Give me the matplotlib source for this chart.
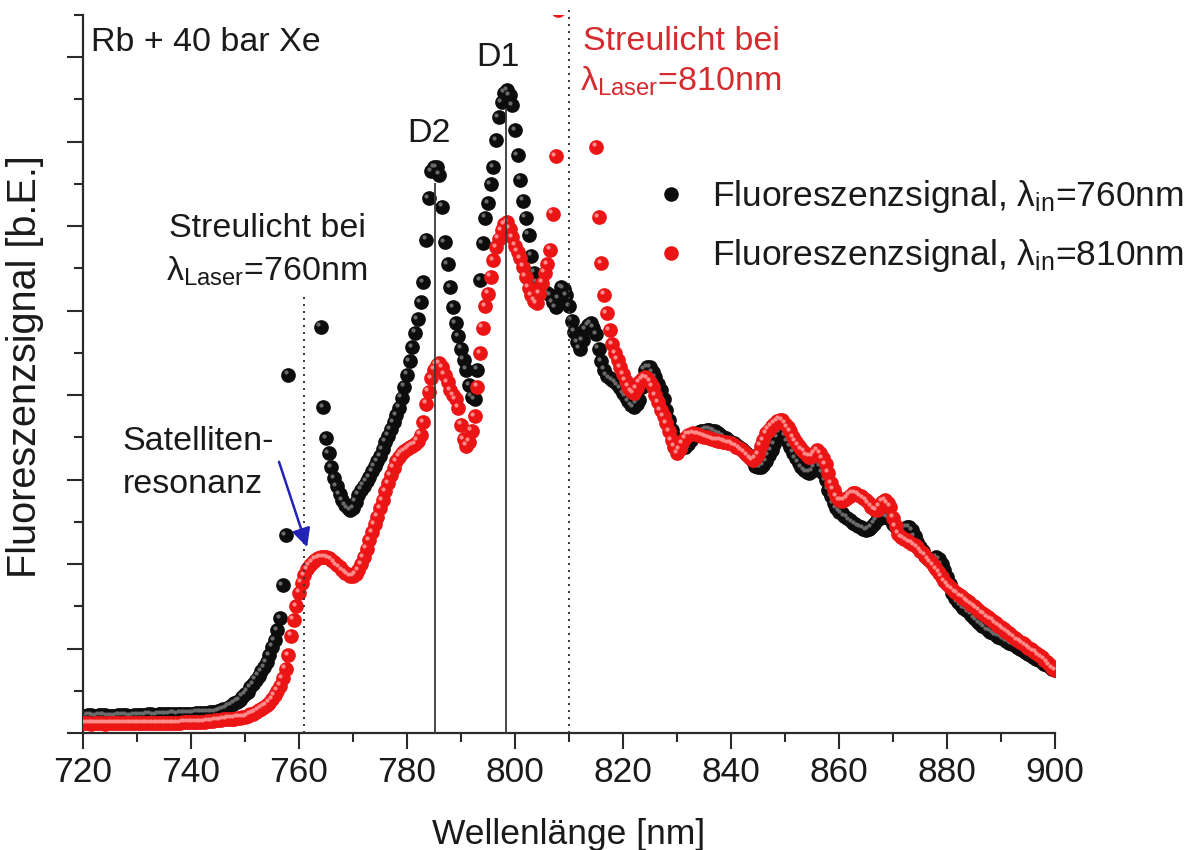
"""Fluoreszenzspektrum Rb + 40 bar Xe bei zwei Anregungswellenlaengen."""

import matplotlib

matplotlib.use("Agg")
import matplotlib.pyplot as plt
import matplotlib.transforms as mtransforms
from matplotlib.lines import Line2D
from matplotlib.ticker import MultipleLocator, NullFormatter
import numpy as np

plt.rcParams.update(
    {
        "font.family": ["Liberation Sans", "DejaVu Sans"],
        "mathtext.fontset": "custom",
        "mathtext.rm": "Liberation Sans",
        "mathtext.it": "Liberation Sans:italic",
        "mathtext.bf": "Liberation Sans:bold",
    }
)

# Messgitter: 720 ... 900 nm in 0.5-nm-Schritten
WL_START = 720.0
WL_STEP = 0.5

# Fluoreszenzsignal bei Anregung mit 760 nm (b.E.), Werte > 8.5 = Streulicht ausserhalb
SIGNAL_760 = [
    0.20, 0.20, 0.21, 0.21, 0.20, 0.20, 0.21, 0.21, 0.21, 0.20,
    0.20, 0.20, 0.20, 0.21, 0.21, 0.21, 0.21, 0.20, 0.20, 0.21,
    0.21, 0.21, 0.21, 0.21, 0.22, 0.22, 0.21, 0.21, 0.22, 0.22,
    0.22, 0.22, 0.22, 0.23, 0.23, 0.22, 0.23, 0.23, 0.23, 0.23,
    0.23, 0.23, 0.24, 0.24, 0.24, 0.24, 0.24, 0.25, 0.25, 0.25,
    0.26, 0.27, 0.28, 0.29, 0.31, 0.33, 0.35, 0.37, 0.39, 0.43,
    0.46, 0.49, 0.54, 0.58, 0.63, 0.68, 0.73, 0.78, 0.84, 0.92,
    1.02, 1.10, 1.22, 1.36, 1.75, 2.34, 4.24, 9.60, 12.5, 15.0,
    17.0, 17.0, 15.0, 13.0, 11.5, 10.5, 9.80, 9.00, 4.81, 3.86,
    3.49, 3.31, 3.15, 3.02, 2.92, 2.83, 2.76, 2.70, 2.66, 2.64,
    2.66, 2.74, 2.82, 2.88, 2.93, 2.98, 3.03, 3.10, 3.16, 3.22,
    3.28, 3.36, 3.45, 3.52, 3.60, 3.68, 3.76, 3.85, 3.97, 4.10,
    4.24, 4.40, 4.57, 4.74, 4.90, 5.10, 5.34, 5.84, 6.33, 6.65,
    6.70, 6.70, 6.61, 6.23, 5.81, 5.55, 5.28, 5.04, 4.85, 4.70,
    4.55, 4.42, 4.30, 4.12, 3.98, 3.95, 4.30, 5.36, 5.80, 6.10,
    6.27, 6.50, 6.70, 7.02, 7.29, 7.47, 7.58, 7.61, 7.55, 7.43,
    7.14, 6.84, 6.55, 6.30, 6.10, 5.90, 5.65, 5.45, 5.34, 5.28,
    5.25, 5.22, 5.21, 5.18, 5.10, 5.04, 5.15, 5.28, 5.26, 5.18,
    5.05, 4.88, 4.75, 4.63, 4.55, 4.65, 4.78, 4.83, 4.85, 4.80,
    4.72, 4.55, 4.40, 4.30, 4.23, 4.20, 4.18, 4.15, 4.12, 4.08,
    4.02, 3.98, 3.93, 3.88, 3.86, 3.90, 3.94, 4.10, 4.30, 4.33,
    4.33, 4.27, 4.21, 4.13, 4.06, 3.95, 3.82, 3.70, 3.59, 3.50,
    3.43, 3.40, 3.39, 3.39, 3.42, 3.47, 3.50, 3.53, 3.56, 3.57,
    3.58, 3.59, 3.59, 3.58, 3.57, 3.55, 3.53, 3.51, 3.49, 3.47,
    3.45, 3.43, 3.41, 3.39, 3.36, 3.33, 3.30, 3.27, 3.22, 3.16,
    3.15, 3.15, 3.17, 3.22, 3.29, 3.35, 3.42, 3.50, 3.56, 3.59,
    3.52, 3.45, 3.39, 3.32, 3.25, 3.20, 3.15, 3.11, 3.09, 3.08,
    3.10, 3.14, 3.19, 3.16, 3.08, 2.99, 2.88, 2.80, 2.72, 2.66,
    2.62, 2.60, 2.57, 2.55, 2.52, 2.49, 2.47, 2.45, 2.44, 2.42,
    2.40, 2.41, 2.44, 2.48, 2.52, 2.55, 2.56, 2.56, 2.55, 2.53,
    2.48, 2.44, 2.40, 2.40, 2.42, 2.44, 2.44, 2.40, 2.33, 2.26,
    2.20, 2.15, 2.10, 2.06, 2.05, 2.06, 2.08, 2.06, 2.00, 1.93,
    1.85, 1.76, 1.66, 1.60, 1.55, 1.51, 1.48, 1.46, 1.43, 1.40,
    1.36, 1.33, 1.30, 1.27, 1.25, 1.22, 1.20, 1.18, 1.16, 1.14,
    1.13, 1.11, 1.09, 1.07, 1.05, 1.04, 1.02, 1.00, 0.98, 0.96,
    0.94, 0.92, 0.90, 0.88, 0.86, 0.84, 0.82, 0.80, 0.78, 0.76,
    0.74,
]

# Fluoreszenzsignal bei Anregung mit 810 nm (b.E.)
SIGNAL_810 = [
    0.12, 0.12, 0.12, 0.11, 0.12, 0.12, 0.12, 0.12, 0.11, 0.12,
    0.12, 0.12, 0.12, 0.12, 0.12, 0.12, 0.12, 0.12, 0.12, 0.12,
    0.12, 0.12, 0.12, 0.12, 0.12, 0.12, 0.12, 0.12, 0.12, 0.12,
    0.12, 0.12, 0.12, 0.12, 0.12, 0.12, 0.12, 0.13, 0.13, 0.13,
    0.13, 0.13, 0.13, 0.13, 0.13, 0.13, 0.14, 0.14, 0.14, 0.15,
    0.15, 0.15, 0.16, 0.16, 0.17, 0.17, 0.17, 0.18, 0.18, 0.19,
    0.19, 0.20, 0.22, 0.23, 0.25, 0.27, 0.29, 0.31, 0.33, 0.36,
    0.40, 0.45, 0.50, 0.56, 0.65, 0.76, 0.92, 1.15, 1.34, 1.50,
    1.66, 1.78, 1.87, 1.94, 1.99, 2.02, 2.05, 2.07, 2.08, 2.08,
    2.08, 2.07, 2.05, 2.02, 1.99, 1.96, 1.93, 1.90, 1.88, 1.86,
    1.86, 1.88, 1.93, 2.00, 2.08, 2.18, 2.28, 2.38, 2.47, 2.56,
    2.66, 2.76, 2.86, 2.96, 3.05, 3.14, 3.22, 3.27, 3.31, 3.34,
    3.36, 3.38, 3.40, 3.42, 3.46, 3.53, 3.68, 3.90, 4.04, 4.20,
    4.30, 4.36, 4.38, 4.33, 4.24, 4.15, 4.06, 4.00, 3.95, 3.85,
    3.65, 3.48, 3.40, 3.45, 3.58, 3.75, 4.10, 4.50, 4.80, 5.05,
    5.20, 5.40, 5.60, 5.75, 5.85, 5.95, 6.02, 6.05, 5.97, 5.87,
    5.77, 5.70, 5.62, 5.52, 5.40, 5.27, 5.18, 5.12, 5.09, 5.20,
    5.33, 5.45, 5.55, 5.72, 6.15, 6.83, 8.56, 10.5, 13.0, 16.0,
    19.0, 21.0, 21.0, 19.0, 16.0, 13.0, 11.0, 9.80, 9.20, 8.90,
    6.94, 6.11, 5.56, 5.19, 4.97, 4.77, 4.60, 4.50, 4.42, 4.33,
    4.25, 4.17, 4.10, 4.05, 4.02, 4.08, 4.15, 4.19, 4.21, 4.20,
    4.16, 4.10, 4.00, 3.92, 3.82, 3.75, 3.67, 3.57, 3.47, 3.39,
    3.31, 3.36, 3.43, 3.49, 3.53, 3.54, 3.55, 3.54, 3.53, 3.52,
    3.51, 3.50, 3.49, 3.48, 3.47, 3.46, 3.46, 3.45, 3.44, 3.43,
    3.43, 3.41, 3.39, 3.37, 3.35, 3.32, 3.29, 3.25, 3.23, 3.25,
    3.30, 3.40, 3.47, 3.55, 3.59, 3.63, 3.66, 3.69, 3.71, 3.70,
    3.66, 3.62, 3.57, 3.50, 3.45, 3.40, 3.36, 3.33, 3.29, 3.27,
    3.28, 3.31, 3.35, 3.31, 3.25, 3.18, 3.08, 2.96, 2.88, 2.80,
    2.76, 2.75, 2.76, 2.78, 2.81, 2.84, 2.84, 2.82, 2.80, 2.78,
    2.76, 2.72, 2.68, 2.65, 2.64, 2.68, 2.74, 2.76, 2.72, 2.68,
    2.55, 2.45, 2.36, 2.32, 2.30, 2.28, 2.26, 2.24, 2.22, 2.20,
    2.16, 2.13, 2.10, 2.06, 2.02, 1.98, 1.94, 1.90, 1.85, 1.80,
    1.76, 1.73, 1.70, 1.67, 1.65, 1.62, 1.60, 1.57, 1.55, 1.52,
    1.50, 1.47, 1.45, 1.42, 1.40, 1.37, 1.35, 1.33, 1.30, 1.27,
    1.25, 1.23, 1.20, 1.18, 1.15, 1.13, 1.10, 1.08, 1.06, 1.04,
    1.01, 0.99, 0.97, 0.95, 0.92, 0.90, 0.87, 0.84, 0.80, 0.77,
    0.74,
]

# Markierungen
D2_NM, D2_TOP = 785.1, 6.51
D1_NM, D1_TOP = 798.4, 7.40
LASER_760_NM, LASER_760_TOP = 761.0, 5.16
LASER_810_NM, LASER_810_TOP = 810.0, 8.56

BLACK = "#0d0d0d"
BLACK_HL = "#6a6a6a"
RED = "#ec1515"
RED_HL = "#ff8a8a"
TEXT = "#1a1a1a"
TEXT_RED = "#d52a2e"
ARROW = "#2323b5"

FS_TICK = 25.5
FS_TEXT = 24.5


def balls(ax, fig, x, y, color, hl_color, z):
    """Kugel-Marker: dunkler Kreis plus kleiner heller Glanzpunkt oben links."""
    ax.scatter(x, y, s=112, c=color, linewidths=0, zorder=z)
    shifted = mtransforms.offset_copy(ax.transData, fig=fig, x=-1.7, y=1.7, units="points")
    ax.scatter(x, y, s=9, c=hl_color, linewidths=0, zorder=z + 0.5, transform=shifted)


def main() -> None:
    wl = WL_START + WL_STEP * np.arange(len(SIGNAL_760))
    y760 = np.array(SIGNAL_760)
    y810 = np.array(SIGNAL_810)

    fig = plt.figure(figsize=(12.01, 8.5), dpi=100)
    ax = fig.add_axes([83 / 1201, 117 / 850, 972 / 1201, 718 / 850])

    balls(ax, fig, wl, y760, BLACK, BLACK_HL, 2)
    balls(ax, fig, wl, y810, RED, RED_HL, 3)

    # Linien D2 / D1 und Streulicht-Positionen
    ax.vlines([D2_NM, D1_NM], 0, [D2_TOP, D1_TOP], colors="#3a3a3a", lw=1.3, zorder=5)
    ax.vlines(LASER_760_NM, 0, LASER_760_TOP, colors="#333333", lw=1.4,
              linestyles=(0, (1, 2.6)), zorder=5)
    ax.vlines(LASER_810_NM, 0, LASER_810_TOP, colors="#333333", lw=1.4,
              linestyles=(0, (1, 2.6)), zorder=5, clip_on=False)

    ax.set_xlim(720, 900)
    ax.set_ylim(0, 8.5)

    for side in ("top", "right"):
        ax.spines[side].set_visible(False)
    for side in ("left", "bottom"):
        ax.spines[side].set_linewidth(1.6)
        ax.spines[side].set_color("#2a2a2a")

    ax.xaxis.set_major_locator(MultipleLocator(20))
    ax.xaxis.set_minor_locator(MultipleLocator(10))
    ax.yaxis.set_major_locator(MultipleLocator(1))
    ax.yaxis.set_minor_locator(MultipleLocator(0.5))
    ax.yaxis.set_major_formatter(NullFormatter())
    ax.tick_params(axis="both", which="major", direction="out", length=11.5,
                   width=1.5, color="#2a2a2a", labelsize=FS_TICK, labelcolor=TEXT, pad=5)
    ax.tick_params(axis="both", which="minor", direction="out", length=6.5,
                   width=1.5, color="#2a2a2a")

    ax.set_xlabel("Wellenlänge [nm]", fontsize=FS_TICK, color=TEXT)
    ax.xaxis.set_label_coords(0.5, -0.118)
    ax.xaxis.label.set_va("top")
    ax.set_ylabel("Fluoreszenzsignal [b.E.]", fontsize=28.5, color=TEXT)
    ax.yaxis.set_label_coords(-0.040, 0.51)

    # Beschriftungen
    ax.text(721.5, 8.17, "Rb + 40 bar Xe", fontsize=FS_TEXT, color=TEXT, va="center")
    ax.text(784.1, 7.10, "D2", fontsize=FS_TEXT, color=TEXT, ha="center", va="center")
    ax.text(796.9, 8.00, "D1", fontsize=FS_TEXT, color=TEXT, ha="center", va="center")

    ax.text(735.9, 5.87, "Streulicht bei", fontsize=FS_TEXT, color=TEXT)
    ax.text(735.3, 5.36, r"λ$_{\mathrm{Laser}}$=760nm", fontsize=FS_TEXT, color=TEXT)
    ax.text(812.6, 8.09, "Streulicht bei", fontsize=FS_TEXT, color=TEXT_RED)
    ax.text(812.0, 7.60, r"λ$_{\mathrm{Laser}}$=810nm", fontsize=FS_TEXT, color=TEXT_RED)

    ax.text(727.4, 3.35, "Satelliten-", fontsize=FS_TEXT, color=TEXT)
    ax.text(727.4, 2.84, "resonanz", fontsize=FS_TEXT, color=TEXT)
    ax.annotate(
        "",
        xy=(761.5, 2.20),
        xytext=(756.3, 3.21),
        arrowprops=dict(arrowstyle="-|>", color=ARROW, lw=1.8,
                        mutation_scale=28, shrinkA=0, shrinkB=0),
        zorder=6,
    )

    handles = [
        Line2D([], [], ls="none", marker="o", markersize=10.5, color=BLACK, mec="none"),
        Line2D([], [], ls="none", marker="o", markersize=10.5, color=RED, mec="none"),
    ]
    labels = [
        r"Fluoreszenzsignal, λ$_{\mathrm{in}}$=760nm",
        r"Fluoreszenzsignal, λ$_{\mathrm{in}}$=810nm",
    ]
    leg = ax.legend(
        handles,
        labels,
        loc="upper left",
        bbox_to_anchor=(653 / 1201, 1 - 178 / 850),
        bbox_transform=fig.transFigure,
        frameon=False,
        fontsize=FS_TICK,
        handlelength=1.0,
        handletextpad=0.66,
        labelspacing=0.62,
        borderpad=0,
        borderaxespad=0,
    )
    for t in leg.get_texts():
        t.set_color(TEXT)

    fig.savefig("out.png", dpi=100)
    plt.close(fig)


if __name__ == "__main__":
    main()
